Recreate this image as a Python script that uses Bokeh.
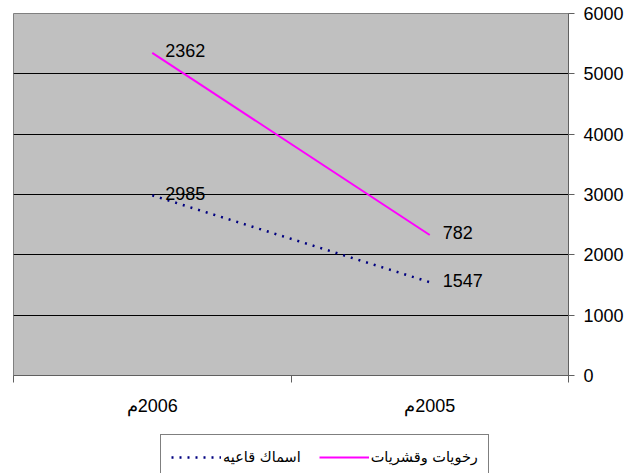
from bokeh.plotting import figure
from bokeh.layouts import column
from bokeh.models import Range1d, LinearAxis, FixedTicker, Legend, LegendItem, ColumnDataSource
from bokeh.core.properties import value
from bokeh.embed import file_html
from bokeh.resources import INLINE

# ---- data ----
years = ["2006م", "2005م"]
fish = [2985, 1547]        # اسماك قاعيه
mollusc = [2362, 782]      # رخويات وقشريات
series_names = ["اسماك قاعيه", "رخويات وقشريات"]
yticks = [0, 1000, 2000, 3000, 4000, 5000, 6000]

FONT = "Liberation Sans"
FISH_STYLE = dict(line_color="#000080", line_width=2.5, line_dash="2 6")
MOLL_STYLE = dict(line_color="#FF00FF", line_width=2)

xpos = [i + 0.5 for i in range(len(years))]
top = [a + b for a, b in zip(fish, mollusc)]
src = ColumnDataSource(dict(x=xpos, fish=fish, top=top,
                            fish_lbl=[str(v) for v in fish],
                            moll_lbl=[str(v) for v in mollusc]))

p = figure(width=640, height=430, output_backend="svg", toolbar_location=None,
           x_range=Range1d(0, len(years)), y_range=Range1d(yticks[0], yticks[-1]),
           y_axis_location="right",
           min_border_left=13, min_border_top=13, min_border_right=72, min_border_bottom=55)

p.border_fill_color = "white"
p.background_fill_color = "#C0C0C0"
p.outline_line_color = "#808080"
p.outline_line_width = 1

# grid
p.xgrid.visible = False
p.ygrid.ticker = FixedTicker(ticks=yticks[1:-1])
p.ygrid.grid_line_color = "black"
p.ygrid.grid_line_width = 1

# y axis (right)
ya = p.yaxis[0]
ya.ticker = FixedTicker(ticks=yticks)
ya.axis_line_color = "#606060"
ya.major_tick_line_color = "#606060"
ya.major_tick_out = 6
ya.major_tick_in = 0
ya.minor_tick_line_color = None
ya.major_label_text_font = FONT
ya.major_label_text_font_size = "18px"
ya.major_label_text_color = "black"
ya.major_label_standoff = 9

# x axis: boundary tick marks
xa = p.xaxis[0]
xa.ticker = FixedTicker(ticks=list(range(len(years) + 1)))
xa.major_label_text_color = None
xa.major_label_standoff = 0
xa.axis_line_color = "#606060"
xa.major_tick_line_color = "#606060"
xa.major_tick_out = 7
xa.major_tick_in = 0
xa.minor_tick_line_color = None

# x axis: category labels
xb = LinearAxis(ticker=FixedTicker(ticks=xpos),
                major_label_overrides={x: "\u200f" + y for x, y in zip(xpos, years)})
xb.axis_line_color = None
xb.major_tick_line_color = None
xb.major_tick_out = 0
xb.major_tick_in = 0
xb.minor_tick_line_color = None
xb.major_label_text_font = FONT
xb.major_label_text_font_size = "18px"
xb.major_label_text_color = "black"
xb.major_label_standoff = 13
p.add_layout(xb, "below")

# lines
p.line("x", "fish", source=src, **FISH_STYLE)
p.line("x", "top", source=src, **MOLL_STYLE)

# data labels
p.text("x", "fish", text="fish_lbl", source=src, x_offset=13, y_offset=-2,
       text_font=value(FONT), text_font_size="18px", text_baseline="middle",
       text_align="left", text_color="black")
p.text("x", "top", text="moll_lbl", source=src, x_offset=13, y_offset=-2,
       text_font=value(FONT), text_font_size="18px", text_baseline="middle",
       text_align="left", text_color="black")

# ---- legend strip below the chart (its own ranges keep the series out of view) ----
lf = figure(width=640, height=50, output_backend="svg", toolbar_location=None,
            x_axis_type=None, y_axis_type=None,
            x_range=Range1d(-3, -2), y_range=Range1d(-3, -2),
            min_border_left=0, min_border_right=0, min_border_top=0, min_border_bottom=0)
lf.outline_line_color = None
lf.background_fill_color = "white"
lf.border_fill_color = "white"
lf.grid.visible = False
lr_fish = lf.line("x", "fish", source=src, **FISH_STYLE)
lr_moll = lf.line("x", "top", source=src, **MOLL_STYLE)

legend = Legend(items=[LegendItem(label=series_names[0], renderers=[lr_fish]),
                       LegendItem(label=series_names[1], renderers=[lr_moll])],
                orientation="horizontal", location=(147, 0))
legend.border_line_color = "black"
legend.border_line_width = 1
legend.background_fill_color = "white"
legend.background_fill_alpha = 1
legend.padding = 10
legend.margin = 0
legend.spacing = 18
legend.glyph_width = 50
legend.glyph_height = 24
legend.label_height = 24
legend.label_standoff = 2
legend.label_text_font = "DejaVu Sans"
legend.label_text_font_size = "14.5px"
legend.label_text_color = "black"
legend.label_text_baseline = "middle"
lf.add_layout(legend, "center")

layout = column(p, lf, spacing=0)

open("out.html", "w").write(file_html(layout, INLINE))
